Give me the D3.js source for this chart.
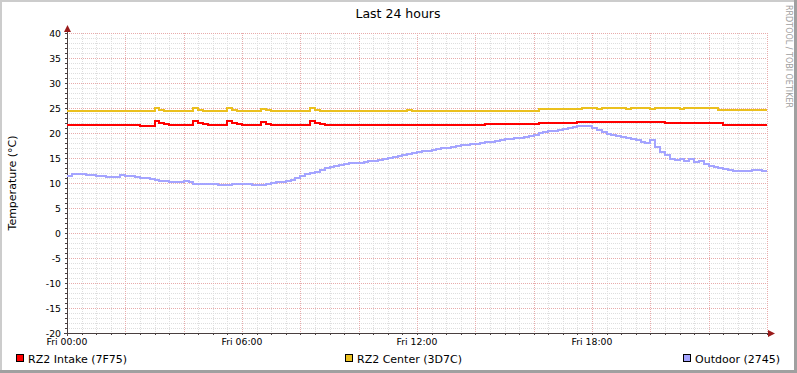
<!DOCTYPE html>
<html><head><meta charset="utf-8">
<script src="https://cdn.jsdelivr.net/npm/d3@7"></script>
<style>body{margin:0;background:#fff}svg{display:block;font-family:"DejaVu Sans",sans-serif}</style>
</head><body>
<svg id="c" width="797" height="373"></svg>
<script>
// ---- data (10-minute samples over 24 hours) ----
const title = "Last 24 hours";
const yLabel = "Temperature (°C)";
const yTicks = [40,35,30,25,20,15,10,5,0,-5,-10,-15,-20];
const xTickHours = [0,6,12,18];
const xTickLabels = ["Fri 00:00","Fri 06:00","Fri 12:00","Fri 18:00"];
const seriesNames = ["RZ2 Intake (7F75)","RZ2 Center (3D7C)","Outdoor (2745)"];
const seriesColors = ["#FF0000","#EBC01E","#A4A4FF"];

const intake = [
21.6,21.6,21.7,21.6,21.6,21.6,21.6,21.6,21.7,21.6,21.6,21.6,21.6,21.6,21.6,21.4,21.4,21.5,22.4,22.0,
21.8,21.6,21.6,21.6,21.6,21.6,22.4,22.0,21.8,21.6,21.6,21.6,21.6,22.4,22.0,21.8,21.6,21.6,21.6,21.6,
22.3,21.9,21.6,21.6,21.6,21.6,21.6,21.6,21.6,21.6,22.4,22.0,21.8,21.7,21.7,21.6,21.7,21.7,21.7,21.7,
21.7,21.7,21.6,21.7,21.7,21.7,21.7,21.7,21.6,21.7,21.7,21.7,21.7,21.7,21.7,21.7,21.7,21.7,21.7,21.6,
21.7,21.7,21.7,21.7,21.7,21.7,21.9,21.9,21.9,21.8,21.9,21.9,21.9,21.9,21.9,21.9,21.9,22.1,22.1,22.1,
22.0,22.1,22.1,22.1,22.1,22.3,22.3,22.3,22.3,22.3,22.3,22.3,22.3,22.2,22.3,22.3,22.2,22.3,22.3,22.3,
22.3,22.3,22.3,22.0,22.0,22.0,22.0,22.0,22.0,22.0,22.0,22.0,22.0,22.0,22.0,21.7,21.7,21.7,21.6,21.7,
21.7,21.6,21.7,21.7,21.7];

const center = [
24.5,24.5,24.5,24.5,24.5,24.4,24.5,24.5,24.5,24.5,24.4,24.5,24.5,24.5,24.5,24.5,24.4,24.5,25.0,24.7,
24.5,24.5,24.5,24.4,24.5,24.5,25.1,24.7,24.5,24.5,24.5,24.5,24.5,25.1,24.7,24.5,24.5,24.4,24.5,24.5,
24.9,24.7,24.5,24.5,24.5,24.5,24.5,24.5,24.5,24.5,25.0,24.7,24.5,24.5,24.5,24.5,24.5,24.5,24.5,24.5,
24.5,24.5,24.5,24.5,24.5,24.4,24.5,24.5,24.5,24.5,24.6,24.5,24.5,24.5,24.5,24.5,24.5,24.5,24.5,24.5,
24.5,24.5,24.5,24.5,24.5,24.5,24.5,24.5,24.5,24.5,24.5,24.5,24.5,24.5,24.5,24.5,24.5,24.8,24.8,24.8,
24.8,24.8,24.8,24.8,24.8,24.8,25.0,25.0,25.0,24.9,25.0,25.0,25.0,25.0,25.0,24.9,25.0,25.0,25.0,25.0,
24.9,25.0,25.0,25.0,25.0,25.0,24.9,25.0,25.0,25.0,25.0,25.0,25.0,25.0,24.7,24.7,24.7,24.7,24.7,24.7,
24.7,24.7,24.7,24.7,24.7];

const outdoor = [
11.4,11.8,11.9,11.8,11.7,11.6,11.5,11.4,11.3,11.3,11.3,11.7,11.5,11.4,11.2,11.1,11.0,10.9,10.7,10.5,
10.4,10.3,10.2,10.2,10.4,10.3,9.9,9.9,9.8,9.8,9.8,9.7,9.7,9.7,9.8,9.9,9.9,9.8,9.7,9.7,
9.7,9.9,10.1,10.2,10.3,10.5,10.7,11.0,11.4,11.8,12.1,12.3,12.6,13.0,13.3,13.5,13.7,13.9,14.0,14.1,
14.1,14.2,14.4,14.5,14.6,14.8,15.0,15.2,15.4,15.6,15.8,16.0,16.3,16.4,16.5,16.6,16.8,17.0,17.1,17.3,
17.5,17.6,17.7,17.8,17.9,18.1,18.2,18.3,18.5,18.7,18.8,18.9,19.0,19.1,19.3,19.5,19.7,20.0,20.2,20.4,
20.5,20.7,20.9,21.1,21.3,21.4,21.5,21.4,21.0,20.6,20.2,19.9,19.7,19.5,19.3,19.1,18.9,18.6,18.2,18.1,
18.7,17.3,16.3,15.6,14.9,14.6,14.9,14.4,14.9,14.3,14.5,13.9,13.5,13.2,13.0,12.8,12.6,12.5,12.5,12.5,
12.5,12.6,12.6,12.5,12.5];

const series = [intake, center, outdoor];

// ---- drawing ----
const W = 797, H = 373;
const L = 67, R = 767, T = 33, B = 333;
const svg = d3.select("#c");
const x = d3.scaleLinear().domain([0,24]).range([L,R]);
const y = d3.scaleLinear().domain([-20,40]).range([B,T]);

svg.append("rect").attr("width",W).attr("height",H).attr("fill","#fff");
// frame shading
svg.append("rect").attr("x",0).attr("y",0).attr("width",W).attr("height",2).attr("fill","#CCCCCC");
svg.append("rect").attr("x",0).attr("y",0).attr("width",2).attr("height",H).attr("fill","#CCCCCC");
svg.append("rect").attr("x",0).attr("y",H-3).attr("width",W).attr("height",3).attr("fill","#A0A0A0");
svg.append("rect").attr("x",W-3).attr("y",0).attr("width",3).attr("height",H).attr("fill","#A0A0A0");

const g = svg.append("g").attr("shape-rendering","crispEdges");
// grid
const minorY = d3.range(-20,41,1).filter(v=>v%5!==0);
const majorY = d3.range(-20,41,5);
const minorX = d3.range(0,24.01,0.5).filter(h=>h%2!==0);
const majorX = d3.range(0,24.01,2);
g.selectAll(".mny").data(minorY).join("line")
  .attr("x1",L).attr("x2",R).attr("y1",d=>Math.round(y(d))+0.5).attr("y2",d=>Math.round(y(d))+0.5)
  .attr("stroke","#DEDEDE").attr("stroke-dasharray","1,1");
g.selectAll(".mnx").data(minorX).join("line")
  .attr("y1",T).attr("y2",B).attr("x1",d=>Math.round(x(d))+0.5).attr("x2",d=>Math.round(x(d))+0.5)
  .attr("stroke","#DEDEDE").attr("stroke-dasharray","1,1");
g.selectAll(".mjy").data(majorY).join("line")
  .attr("x1",L).attr("x2",R).attr("y1",d=>Math.round(y(d))+0.5).attr("y2",d=>Math.round(y(d))+0.5)
  .attr("stroke","#E8ABAB").attr("stroke-dasharray","1,1");
g.selectAll(".mjx").data(majorX).join("line")
  .attr("y1",T).attr("y2",B).attr("x1",d=>Math.round(x(d))+0.5).attr("x2",d=>Math.round(x(d))+0.5)
  .attr("stroke","#E8ABAB").attr("stroke-dasharray","1,1");

// series lines
const line = d3.line().x((d,i)=>x(i/6)).y(d=>y(d)).curve(d3.curveStepAfter);
series.forEach((s,k)=>{
  svg.append("path").datum(s).attr("d",line).attr("fill","none")
    .attr("stroke",seriesColors[k]).attr("stroke-width",2).attr("shape-rendering","crispEdges");
});

// axes
const axisColor = "#4A4040";
g.selectAll(".ty").data(d3.range(-20,41,1)).join("line")
  .attr("x1",L-2).attr("x2",L).attr("y1",d=>Math.round(y(d))+0.5).attr("y2",d=>Math.round(y(d))+0.5)
  .attr("stroke",axisColor);
g.selectAll(".tx").data(d3.range(0,24.01,0.5)).join("line")
  .attr("y1",B).attr("y2",B+2).attr("x1",d=>Math.round(x(d))+0.5).attr("x2",d=>Math.round(x(d))+0.5)
  .attr("stroke",axisColor);
g.append("line").attr("x1",L+0.5).attr("x2",L+0.5).attr("y1",B+3).attr("y2",T-3).attr("stroke",axisColor);
g.append("line").attr("x1",L-3).attr("x2",R+2).attr("y1",B+0.5).attr("y2",B+0.5).attr("stroke",axisColor);
svg.append("path").attr("d",`M${L-3},${T-1}L${L+0.5},${T-8}L${L+4},${T-1}Z`).attr("fill","#9A1A1A");
svg.append("path").attr("d",`M${R+1},${B-3}L${R+8},${B+0.5}L${R+1},${B+4}Z`).attr("fill","#9A1A1A");

// labels
svg.selectAll(".yl").data(yTicks).join("text")
  .attr("x",61).attr("y",d=>y(d)+3.5).attr("text-anchor","end")
  .attr("font-size","9.3px").attr("fill","#000").text(d=>d);
svg.selectAll(".xl").data(xTickHours).join("text")
  .attr("x",d=>x(d)).attr("y",345).attr("text-anchor","middle")
  .attr("font-size","9.3px").attr("fill","#000").text((d,i)=>xTickLabels[i]);

svg.append("text").attr("x",398).attr("y",18).attr("text-anchor","middle")
  .attr("font-size","12.5px").attr("fill","#000").text(title);
svg.append("text").attr("transform",`translate(16,${(T+B)/2}) rotate(-90)`)
  .attr("text-anchor","middle").attr("font-size","11px").attr("fill","#000").text(yLabel);
svg.append("text").attr("transform","translate(786,5) rotate(90)")
  .attr("font-size","8px").attr("fill","#A0A0A0").text("RRDTOOL / TOBI OETIKER");

// legend
const legX = [16,345,683];
seriesNames.forEach((n,k)=>{
  svg.append("rect").attr("x",legX[k]+0.5).attr("y",354.5).attr("width",7).attr("height",7)
    .attr("fill",seriesColors[k]).attr("stroke","#000").attr("stroke-width",1);
  svg.append("text").attr("x",legX[k]+12).attr("y",362.5).attr("font-size","11px").attr("fill","#000").text(n);
});
</script>
</body></html>
